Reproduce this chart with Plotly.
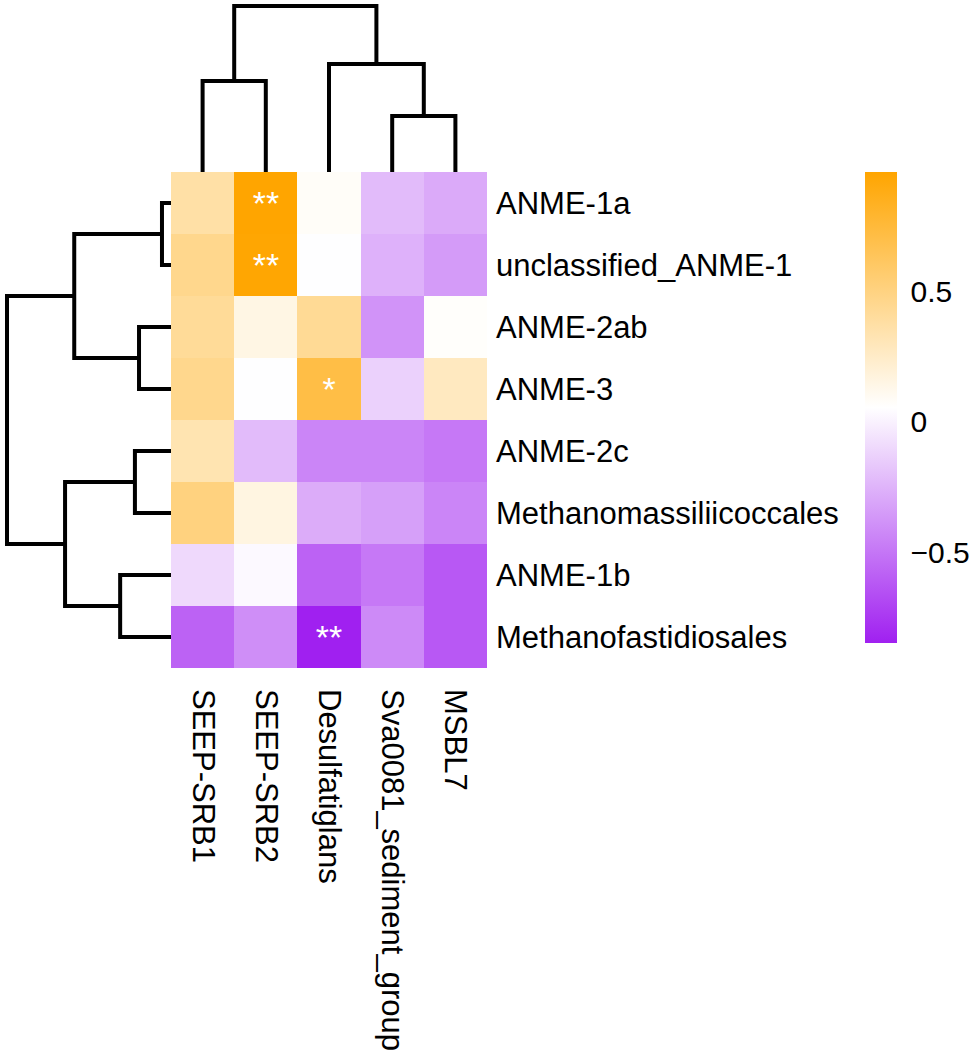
import plotly.graph_objects as go

# ---------------- data ----------------
row_labels = ["ANME-1a", "unclassified_ANME-1", "ANME-2ab", "ANME-3",
              "ANME-2c", "Methanomassiliicoccales", "ANME-1b", "Methanofastidiosales"]
col_labels = ["SEEP-SRB1", "SEEP-SRB2", "Desulfatiglans", "Sva0081_sediment_group", "MSBL7"]

values = [
    [0.37, 0.958, 0.08, -0.22, -0.29],
    [0.46, 0.95, 0.05, -0.26, -0.35],
    [0.42, 0.15, 0.43, -0.38, 0.07],
    [0.46, 0.05, 0.71, -0.13, 0.28],
    [0.33, -0.22, -0.44, -0.44, -0.49],
    [0.51, 0.16, -0.28, -0.33, -0.44],
    [-0.10, 0.03, -0.58, -0.49, -0.62],
    [-0.58, -0.40, -0.847, -0.42, -0.62],
]
signif = [
    ["", "**", "", "", ""],
    ["", "**", "", "", ""],
    ["", "", "", "", ""],
    ["", "", "*", "", ""],
    ["", "", "", "", ""],
    ["", "", "", "", ""],
    ["", "", "", "", ""],
    ["", "", "**", "", ""],
]
# hierarchical merges: (child_a, child_b, height), new node ids continue after leaves
row_merges = [(0, 1, 0.055), (2, 3, 0.195), (4, 5, 0.22), (6, 7, 0.31),
              (8, 9, 0.59), (10, 11, 0.646), (12, 13, 1.0)]
col_merges = [(0, 1, 0.548), (3, 4, 0.337), (2, 6, 0.651), (5, 7, 1.0)]

zmin, zmax = -0.847, 0.958
cb_ticks = [-0.5, 0, 0.5]
cb_ticktext = ["\u22120.5", "0", "0.5"]

# ---------------- geometry ----------------
W, H = 975, 1056
hm_x0, hm_x1 = 171, 487
hm_y0, hm_y1 = 172, 668
FONT = "Liberation Sans, Arial, sans-serif"
LW = 4


def dendro_segments(n_leaves, merges):
    pos = {i: float(i) for i in range(n_leaves)}
    hgt = {i: 0.0 for i in range(n_leaves)}
    xs, ys = [], []
    nid = n_leaves
    for a, b, h in merges:
        xs += [pos[a], pos[a], pos[b], pos[b], None]
        ys += [hgt[a], h, h, hgt[b], None]
        pos[nid] = (pos[a] + pos[b]) / 2
        hgt[nid] = h
        nid += 1
    return xs, ys


fig = go.Figure()

fig.add_trace(go.Heatmap(
    z=values, x=list(range(len(col_labels))), y=list(range(len(row_labels))),
    text=signif, texttemplate="%{text}",
    textfont=dict(color="white", size=34, family=FONT),
    zmin=zmin, zmax=zmax,
    colorscale=[[0, "#A020F0"], [0.5, "#FFFFFF"], [1, "#FFA500"]],
    hoverinfo="skip",
    colorbar=dict(
        x=865 / W, xanchor="left", y=1 - hm_y0 / H, yanchor="top",
        len=471, lenmode="pixels", thickness=32, thicknessmode="pixels",
        xpad=0, ypad=0, outlinewidth=0,
        tickvals=cb_ticks, ticktext=cb_ticktext,
        ticks="outside", ticklen=8, tickcolor="rgba(0,0,0,0)",
        tickfont=dict(size=30, family=FONT, color="black"),
    ),
    xaxis="x", yaxis="y",
))

cx, cy = dendro_segments(len(col_labels), col_merges)
fig.add_trace(go.Scatter(x=cx, y=cy, mode="lines", xaxis="x2", yaxis="y2",
                         line=dict(color="black", width=LW), hoverinfo="skip",
                         showlegend=False))
rx, ry = dendro_segments(len(row_labels), row_merges)
fig.add_trace(go.Scatter(x=ry, y=rx, mode="lines", xaxis="x3", yaxis="y3",
                         line=dict(color="black", width=LW), hoverinfo="skip",
                         showlegend=False))

hm_xdom = [hm_x0 / W, hm_x1 / W]
hm_ydom = [1 - hm_y1 / H, 1 - hm_y0 / H]

fig.update_layout(
    width=W, height=H, margin=dict(l=0, r=0, t=0, b=0),
    paper_bgcolor="white", plot_bgcolor="white", showlegend=False,
    font=dict(family=FONT, color="black"),
    xaxis=dict(domain=hm_xdom, range=[-0.5, len(col_labels) - 0.5],
               tickvals=list(range(len(col_labels))), ticktext=col_labels,
               tickangle=90, ticks="", showgrid=False, zeroline=False,
               showline=False, ticklabelstandoff=20,
               tickfont=dict(size=31, family=FONT, color="black")),
    yaxis=dict(domain=hm_ydom, range=[len(row_labels) - 0.5, -0.5],
               tickvals=list(range(len(row_labels))), ticktext=row_labels,
               side="right", ticks="", showgrid=False, zeroline=False,
               showline=False, ticklabelstandoff=8,
               tickfont=dict(size=31, family=FONT, color="black")),
    xaxis2=dict(domain=hm_xdom, range=[-0.5, len(col_labels) - 0.5],
                visible=False, anchor="y2"),
    yaxis2=dict(domain=[1 - hm_y0 / H, 1.0], range=[0, 172 / 166],
                visible=False, anchor="x2"),
    xaxis3=dict(domain=[0, hm_x0 / W], range=[171 / 164, 0],
                visible=False, anchor="y3"),
    yaxis3=dict(domain=hm_ydom, range=[len(row_labels) - 0.5, -0.5],
                visible=False, anchor="x3"),
)

fig.write_html("out.html",
               config={"displayModeBar": False, "staticPlot": True},
               post_script="document.body.style.margin='0';document.body.style.overflow='hidden';")
